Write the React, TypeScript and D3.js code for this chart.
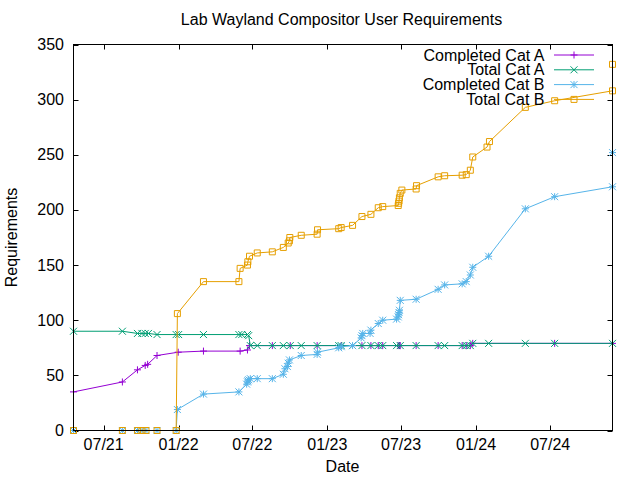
import React from "react";
import * as d3 from "d3";

type Pt = [string, number];

const title = "Lab Wayland Compositor User Requirements";
const xLabel = "Date";
const yLabel = "Requirements";
const yTicks = [0, 50, 100, 150, 200, 250, 300, 350];
const xDomain: [string, string] = ["2021-04-18", "2024-12-01"];
const seriesNames = ["Completed Cat A", "Total Cat A", "Completed Cat B", "Total Cat B"];

const completedA: Pt[] = [
  ["2021-04-18", 35], ["2021-08-16", 44], ["2021-09-22", 55], ["2021-10-11", 59],
  ["2021-10-17", 60], ["2021-11-09", 68], ["2021-12-31", 71], ["2022-03-03", 72],
  ["2022-06-01", 72], ["2022-06-19", 73], ["2022-06-24", 77], ["2022-08-19", 77],
  ["2022-10-02", 77], ["2022-12-07", 77], ["2023-02-04", 77], ["2023-03-27", 77],
  ["2023-04-18", 77], ["2023-05-06", 77], ["2023-05-17", 77], ["2023-06-24", 77],
  ["2023-06-27", 77], ["2023-06-29", 77], ["2023-08-07", 77], ["2023-09-30", 77],
  ["2023-11-28", 77], ["2023-12-08", 77], ["2023-12-18", 77], ["2023-12-24", 79],
  ["2024-07-12", 79], ["2024-12-01", 79],
];

const totalA: Pt[] = [
  ["2021-04-18", 90], ["2021-08-16", 90], ["2021-09-22", 88], ["2021-10-03", 88],
  ["2021-10-11", 88], ["2021-10-19", 88], ["2021-11-09", 87], ["2021-12-26", 87],
  ["2022-01-01", 87], ["2022-03-03", 87], ["2022-05-29", 87], ["2022-06-05", 87],
  ["2022-06-19", 87], ["2022-06-22", 86], ["2022-06-26", 77], ["2022-07-13", 77],
  ["2022-08-19", 77], ["2022-09-15", 77], ["2022-10-02", 77], ["2022-10-29", 77],
  ["2022-12-07", 77], ["2023-01-29", 77], ["2023-02-04", 77], ["2023-03-04", 77],
  ["2023-03-27", 77], ["2023-04-18", 77], ["2023-05-06", 77], ["2023-05-17", 77],
  ["2023-06-20", 77], ["2023-06-29", 77], ["2023-08-07", 77], ["2023-09-30", 77],
  ["2023-10-16", 77], ["2023-11-28", 77], ["2023-12-08", 77], ["2023-12-18", 77],
  ["2023-12-24", 79], ["2024-02-01", 79], ["2024-05-01", 79], ["2024-07-12", 79],
  ["2024-12-01", 79],
];

const completedB: Pt[] = [
  ["2021-04-18", 0], ["2021-08-16", 0], ["2021-09-22", 0], ["2021-10-03", 0],
  ["2021-10-13", 0], ["2021-11-09", 0], ["2021-12-26", 0], ["2021-12-29", 19],
  ["2022-03-03", 33], ["2022-05-29", 35], ["2022-06-17", 42], ["2022-06-19", 44],
  ["2022-06-20", 45], ["2022-06-22", 46], ["2022-06-26", 47], ["2022-07-13", 47],
  ["2022-08-19", 47], ["2022-09-15", 51], ["2022-09-19", 56], ["2022-09-25", 58],
  ["2022-09-27", 61], ["2022-09-30", 64], ["2022-10-29", 68], ["2022-12-07", 69],
  ["2022-12-08", 71], ["2023-01-29", 75], ["2023-02-04", 76], ["2023-03-04", 77],
  ["2023-03-25", 84], ["2023-03-27", 86], ["2023-03-29", 88], ["2023-04-16", 88],
  ["2023-04-18", 91], ["2023-05-06", 97], ["2023-05-17", 100], ["2023-06-20", 101],
  ["2023-06-24", 103], ["2023-06-25", 105], ["2023-06-26", 107], ["2023-06-27", 109],
  ["2023-06-29", 118], ["2023-08-07", 119], ["2023-09-30", 128], ["2023-10-16", 132],
  ["2023-11-28", 133], ["2023-12-08", 135], ["2023-12-18", 141], ["2023-12-24", 148],
  ["2024-02-01", 158], ["2024-05-01", 201], ["2024-07-12", 212], ["2024-12-01", 221],
  ["2024-12-01", 252],
];

const totalB: Pt[] = [
  ["2021-04-18", 0], ["2021-08-16", 0], ["2021-09-22", 0], ["2021-10-03", 0],
  ["2021-10-13", 0], ["2021-11-09", 0], ["2021-12-26", 0], ["2021-12-29", 106],
  ["2022-03-03", 135], ["2022-05-29", 135], ["2022-06-01", 147], ["2022-06-19", 150],
  ["2022-06-20", 153], ["2022-06-24", 158], ["2022-07-13", 161], ["2022-08-19", 162],
  ["2022-09-15", 166], ["2022-09-27", 170], ["2022-09-30", 172], ["2022-10-01", 175],
  ["2022-10-29", 177], ["2022-12-07", 178], ["2022-12-08", 182], ["2023-01-29", 183],
  ["2023-02-04", 184], ["2023-03-04", 186], ["2023-03-27", 194], ["2023-04-18", 196],
  ["2023-05-06", 202], ["2023-05-17", 203], ["2023-06-24", 204], ["2023-06-25", 206],
  ["2023-06-26", 208], ["2023-06-27", 211], ["2023-06-29", 215], ["2023-07-03", 218],
  ["2023-08-07", 219], ["2023-08-08", 222], ["2023-09-30", 230], ["2023-10-16", 231],
  ["2023-11-28", 231.5], ["2023-12-08", 232], ["2023-12-18", 236], ["2023-12-24", 248],
  ["2024-01-28", 257], ["2024-02-03", 262], ["2024-05-01", 293], ["2024-07-12", 299],
  ["2024-12-01", 308], ["2024-12-01", 332],
];

const allSeries = [completedA, totalA, completedB, totalB];
const colors = ["#9400d3", "#009e73", "#56b4e9", "#e69f00"];
const markers = ["plus", "cross", "star", "square"];

const W = 640, H = 480;
const L = 73.5, R = 612.5, T = 44.5, B = 430.5;
const FONT = "'Liberation Sans', Arial, sans-serif";

const parse = d3.timeParse("%Y-%m-%d");

function markerPath(kind: string): string {
  const s = 3.5;
  const plus = `M${-s},0H${s}M0,${-s}V${s}`;
  const cross = `M${-s},${-s}L${s},${s}M${-s},${s}L${s},${-s}`;
  if (kind === "plus") return plus;
  if (kind === "cross") return cross;
  if (kind === "star") return plus + cross;
  const q = 3;
  return `M${-q},${-q}H${q}V${q}H${-q}Z`;
}

export default function App() {
  const x = d3.scaleTime().domain(xDomain.map((d) => parse(d) as Date)).range([L, R]);
  const y = d3.scaleLinear().domain([0, 350]).range([B, T]);
  const xTicks = x.ticks(d3.timeMonth.every(6) as any).filter((d) => d.getMonth() === 0 || d.getMonth() === 6);
  const fmt = d3.timeFormat("%m/%y");
  const line = d3
    .line<Pt>()
    .x((d) => x(parse(d[0]) as Date))
    .y((d) => y(d[1]));
  const tick = 5;

  return (
    <svg
      width={W}
      height={H}
      style={{ position: "absolute", left: 0, top: 0, background: "#fff" }}
      fontFamily={FONT}
    >
      <rect x={0} y={0} width={W} height={H} fill="#fff" />
      <text x={341.5} y={25} fontSize={16} textAnchor="middle" fill="#000">
        {title}
      </text>

      {/* y ticks */}
      {yTicks.map((v) => (
        <g key={"y" + v}>
          <line x1={L} x2={L + tick} y1={Math.round(y(v)) + 0.5} y2={Math.round(y(v)) + 0.5} stroke="#000" />
          <line x1={R} x2={R - tick} y1={Math.round(y(v)) + 0.5} y2={Math.round(y(v)) + 0.5} stroke="#000" />
          <text x={64} y={y(v) + 5.5} fontSize={16} textAnchor="end" fill="#000">
            {v}
          </text>
        </g>
      ))}

      {/* x ticks */}
      {xTicks.map((d) => (
        <g key={"x" + d.getTime()}>
          <line x1={Math.round(x(d)) + 0.5} x2={Math.round(x(d)) + 0.5} y1={B} y2={B - tick} stroke="#000" />
          <line x1={Math.round(x(d)) + 0.5} x2={Math.round(x(d)) + 0.5} y1={T} y2={T + tick} stroke="#000" />
          <text x={x(d)} y={449.5} fontSize={16} textAnchor="middle" fill="#000">
            {fmt(d)}
          </text>
        </g>
      ))}

      <text x={342.5} y={472} fontSize={16} textAnchor="middle" fill="#000">
        {xLabel}
      </text>
      <text
        transform={`translate(17,${(T + B) / 2}) rotate(-90)`}
        fontSize={16}
        textAnchor="middle"
        fill="#000"
      >
        {yLabel}
      </text>

      {/* series */}
      {allSeries.map((s, i) => (
        <g key={"s" + i}>
          <path d={line(s) || ""} fill="none" stroke={colors[i]} strokeWidth={1} />
          {s.map((d, j) => (
            <path
              key={j}
              d={markerPath(markers[i])}
              transform={`translate(${x(parse(d[0]) as Date)},${y(d[1])})`}
              fill="none"
              stroke={colors[i]}
              strokeWidth={1}
            />
          ))}
        </g>
      ))}

      {/* legend */}
      {seriesNames.map((name, i) => {
        const cy = 55 + i * 14.8;
        return (
          <g key={"l" + i}>
            <text x={544.5} y={cy + 5.5} fontSize={16} textAnchor="end" fill="#000">
              {name}
            </text>
            <line x1={554} x2={594} y1={cy} y2={cy} stroke={colors[i]} strokeWidth={1} />
            <path
              d={markerPath(markers[i])}
              transform={`translate(574,${cy})`}
              fill="none"
              stroke={colors[i]}
              strokeWidth={1}
            />
          </g>
        );
      })}

      {/* border */}
      <rect x={L} y={T} width={R - L} height={B - T} fill="none" stroke="#000" strokeWidth={1} />
    </svg>
  );
}
